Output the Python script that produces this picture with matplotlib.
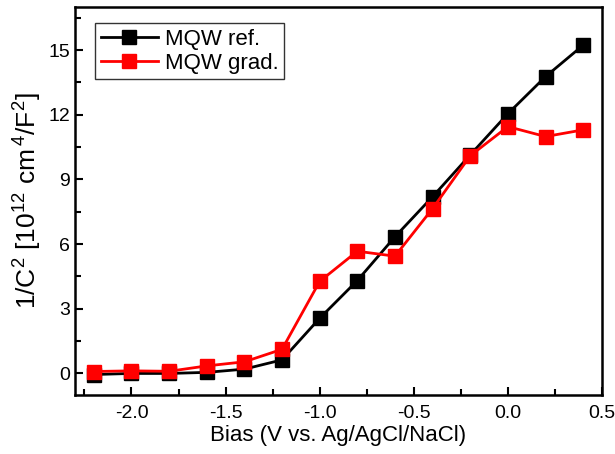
import matplotlib
matplotlib.use("Agg")
import matplotlib.pyplot as plt
from matplotlib.ticker import MultipleLocator

plt.rcParams["font.family"] = ["Liberation Sans", "DejaVu Sans"]
plt.rcParams["mathtext.fontset"] = "custom"
plt.rcParams["mathtext.rm"] = "Liberation Sans"

bias = [-2.2, -2.0, -1.8, -1.6, -1.4, -1.2, -1.0, -0.8, -0.6, -0.4, -0.2, 0.0, 0.2, 0.4]
mqw_ref = [-0.05, 0.0, 0.0, 0.05, 0.2, 0.63, 2.56, 4.31, 6.34, 8.2, 10.14, 12.05, 13.77, 15.23]
mqw_grad = [0.09, 0.12, 0.1, 0.35, 0.54, 1.12, 4.27, 5.67, 5.44, 7.65, 10.1, 11.45, 10.99, 11.3]

fig = plt.figure(figsize=(6.15, 4.54), dpi=100)
ax = fig.add_axes([75 / 615, 1 - 395 / 454, 527 / 615, 388 / 454])

ax.plot(bias, mqw_ref, color="black", marker="s", markersize=10, linewidth=2,
        label="MQW ref.")
ax.plot(bias, mqw_grad, color="red", marker="s", markersize=10, linewidth=2,
        label="MQW grad.")

ax.set_xlim(-2.3, 0.5)
ax.set_ylim(-1, 17)
ax.xaxis.set_major_locator(MultipleLocator(0.5))
ax.xaxis.set_minor_locator(MultipleLocator(0.25))
ax.yaxis.set_major_locator(MultipleLocator(3))
ax.yaxis.set_minor_locator(MultipleLocator(1.5))
ax.xaxis.set_major_formatter(plt.FuncFormatter(lambda v, p: f"{v:.1f}"))
ax.tick_params(which="both", direction="in", labelsize=14, width=1.5)
ax.tick_params(which="major", length=6)
ax.tick_params(which="minor", length=4)
ax.tick_params(axis="x", pad=7)
for s in ax.spines.values():
    s.set_linewidth(1.8)

ax.set_xlabel("Bias (V vs. Ag/AgCl/NaCl)", fontsize=16, labelpad=2)
ax.set_ylabel(r"1/C$^2$ [10$^{12}$ cm$^{\,4}$/F$^2$]", fontsize=19, labelpad=4)

leg = ax.legend(loc="upper left", fontsize=16, frameon=True, fancybox=False,
                edgecolor="black", handlelength=2.6, borderpad=0.25,
                labelspacing=0.15, handletextpad=0.3, borderaxespad=0,
                bbox_to_anchor=(20 / 527, 1 - 16 / 388))
leg.get_frame().set_linewidth(1.0)

fig.savefig("out.png", dpi=100)
